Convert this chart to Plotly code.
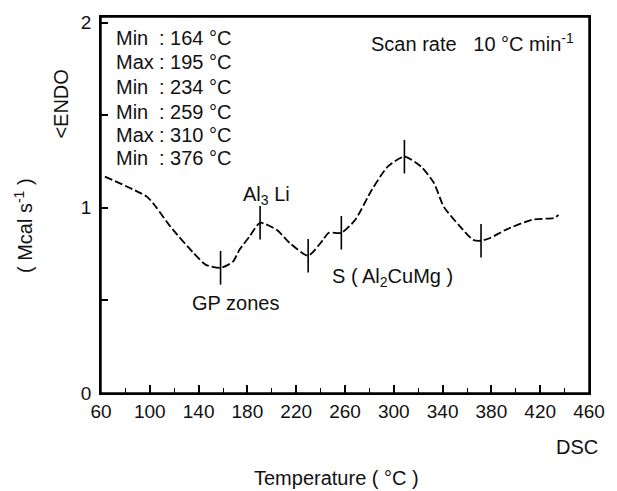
import plotly.graph_objects as go

# DSC curve (temperature in °C, heat flow in Mcal s^-1)
temperature = [63.2, 97.8, 105, 117, 135.7, 146, 158, 168, 173.5, 181.5, 190.4, 204, 214.5,
               229.8, 242, 246.7, 257, 268.4, 282, 295, 308.7, 322.4, 332.8, 341, 354.6,
               365, 371.5, 379.5, 391.6, 413.3, 431.8, 435]
heat_flow = [1.168, 1.059, 1.005, 0.897, 0.757, 0.692, 0.676, 0.708, 0.773, 0.843, 0.919, 0.881,
             0.811, 0.741, 0.827, 0.865, 0.865, 0.935, 1.097, 1.222, 1.276, 1.222, 1.135,
             1.005, 0.897, 0.827, 0.822, 0.838, 0.881, 0.935, 0.946, 0.962]

# marked extrema on the curve
peak_temps = [158, 190.4, 229.8, 257, 308.7, 371.5]
peak_vals = [0.676, 0.919, 0.741, 0.865, 1.276, 0.822]

# list of extrema shown in the upper left
ext_kind = ["Min", "Max", "Min", "Min", "Max", "Min"]
ext_text = [": 164 °C", ": 195 °C", ": 234 °C", ": 259 °C", ": 310 °C", ": 376 °C"]
ext_y = [1.917, 1.787, 1.652, 1.517, 1.393, 1.269]

x_ticks = [60, 100, 140, 180, 220, 260, 300, 340, 380, 420, 460]
x_minor = [80, 120, 160, 200, 240, 280, 320, 360, 400, 440]
y_ticks = [0, 0.5, 1, 1.5, 2]
y_ticktext = ["0", "", "1", "", "2"]

FONT = "Liberation Sans, Arial, Helvetica, sans-serif"
INK = "#000000"
FS = 20

fig = go.Figure()
fig.add_trace(go.Scatter(x=temperature, y=heat_flow, mode="lines",
                         line=dict(color=INK, width=1.8, dash="8px,3px", shape="spline", smoothing=0.6),
                         showlegend=False, hoverinfo="skip"))
fig.add_trace(go.Scatter(x=peak_temps, y=peak_vals, mode="markers",
                         marker=dict(symbol="line-ns", size=24, line=dict(color=INK, width=1.6)),
                         showlegend=False, hoverinfo="skip"))

# frame around the plotting area
fig.add_shape(type="rect", xref="paper", yref="paper", x0=0, x1=1, y0=0, y1=1,
              line=dict(color="#000000", width=1.5), fillcolor="rgba(0,0,0,0)", layer="above")

ann = []
for k, t, yy in zip(ext_kind, ext_text, ext_y):
    ann.append(dict(x=71.0, y=yy, xref="x", yref="y", text=k, showarrow=False,
                    xanchor="left", yanchor="middle", font=dict(size=FS)))
    ann.append(dict(x=105.5, y=yy, xref="x", yref="y", text=t, showarrow=False,
                    xanchor="left", yanchor="middle", font=dict(size=FS)))

ann += [
    dict(x=449.5, y=1.89, xref="x", yref="y", text="Scan rate   10 °C min<sup>-1</sup>",
         showarrow=False, xanchor="right", yanchor="middle", font=dict(size=FS)),
    dict(x=196, y=1.069, xref="x", yref="y", text="Al<sub>3</sub> Li",
         showarrow=False, xanchor="center", yanchor="middle", font=dict(size=FS)),
    dict(x=170.5, y=0.486, xref="x", yref="y", text="GP zones",
         showarrow=False, xanchor="center", yanchor="middle", font=dict(size=FS)),
    dict(x=299, y=0.621, xref="x", yref="y", text="S ( Al<sub>2</sub>CuMg )",
         showarrow=False, xanchor="center", yanchor="middle", font=dict(size=FS)),
    dict(x=1.022, y=-0.1436, xref="paper", yref="paper", text="DSC",
         showarrow=False, xanchor="right", yanchor="middle", font=dict(size=FS)),
    dict(x=0.482, y=-0.226, xref="paper", yref="paper", text="Temperature ( °C )",
         showarrow=False, xanchor="center", yanchor="middle", font=dict(size=FS)),
    dict(x=-0.159, y=0.445, xref="paper", yref="paper", text="( Mcal s<sup>-1</sup> )",
         showarrow=False, textangle=-90, xanchor="center", yanchor="middle", font=dict(size=FS)),
    dict(x=-0.0825, y=0.769, xref="paper", yref="paper", text="&lt;ENDO",
         showarrow=False, textangle=-90, xanchor="center", yanchor="middle", font=dict(size=FS)),
]

fig.update_layout(
    width=617, height=491,
    margin=dict(l=101, r=19, t=17, b=98),
    paper_bgcolor="white", plot_bgcolor="white",
    font=dict(family=FONT, size=FS, color="#111111"),
    annotations=ann,
    xaxis=dict(range=[60, 460], tickvals=x_ticks, ticks="inside", ticklen=8, tickwidth=1.5,
               tickcolor=INK, showline=True, linecolor=INK, linewidth=1.5, mirror=True,
               showgrid=False, zeroline=False, tickfont=dict(size=19),
               minor=dict(tickvals=x_minor, ticks="inside", ticklen=5, tickwidth=1.3, tickcolor=INK,
                          showgrid=False)),
    yaxis=dict(range=[0, 2.03], tickvals=y_ticks, ticktext=y_ticktext, ticks="inside", ticklen=7,
               tickwidth=1.5, tickcolor=INK, showline=True, linecolor=INK, linewidth=1.5,
               mirror=True, showgrid=False, zeroline=False, tickfont=dict(size=19),
               ticklabelstandoff=4),
)

fig.write_html("out.html", config={"displayModeBar": False},
               post_script="document.body.style.margin='0';document.body.style.overflow='hidden';")
